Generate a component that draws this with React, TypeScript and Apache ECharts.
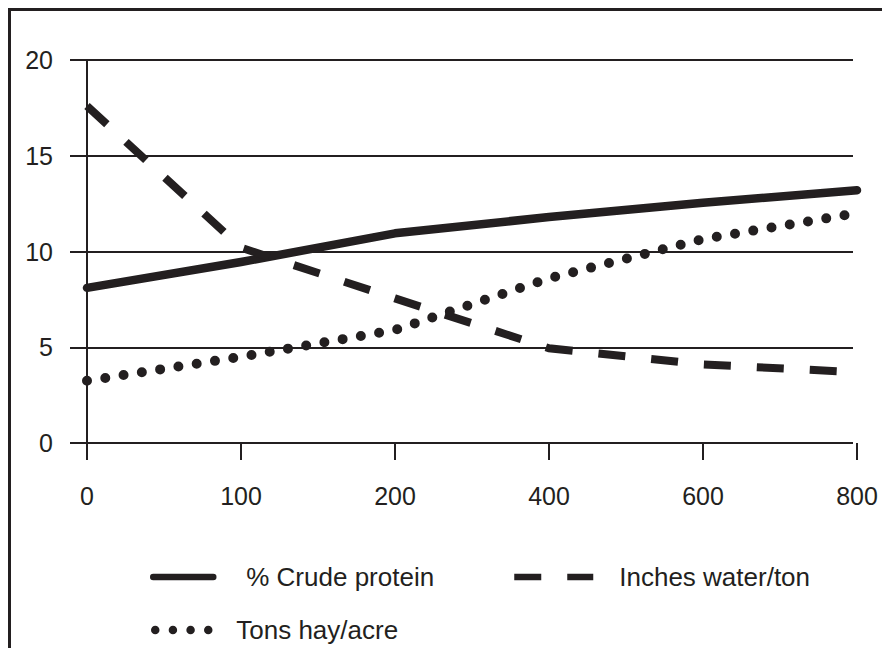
import React, { useEffect, useRef } from "react";
import * as echarts from "echarts";

// X-axis categories (nitrogen rate tick labels)
const categories = ["0", "100", "200", "400", "600", "800"];
// Series values read at each category
const crudeProtein = [8.1, 9.45, 10.95, 11.8, 12.55, 13.2];
const inchesWaterPerTon = [17.6, 10.2, 7.55, 4.95, 4.1, 3.7];
const tonsHayPerAcre = [3.25, 4.5, 5.9, 8.6, 10.65, 12.0];
// Y-axis range
const yMin = 0;
const yMax = 20;
const yStep = 5;

const seriesNames = ["% Crude protein", "Inches water/ton", "Tons hay/acre"];

const INK = "#231f20";
const FONT = "'Liberation Sans', Arial, Helvetica, sans-serif";

export default function App() {
  const ref = useRef<HTMLDivElement>(null);

  useEffect(() => {
    if (!ref.current) return;
    const chart = echarts.init(ref.current, null, { renderer: "svg" });

    const legendCommon = {
      orient: "horizontal",
      padding: 0,
      itemHeight: 26,
      selectedMode: false,
      itemStyle: { opacity: 0 },
    };

    chart.setOption({
      animation: false,
      color: [INK, INK, INK],
      grid: [
        { left: 59, top: 49, width: 783, height: 383 },
        { left: 76, top: 49, width: 770, height: 383 },
      ],
      xAxis: [
        { gridIndex: 0, type: "value", min: 0, max: 1, show: false },
        {
          gridIndex: 1,
          type: "category",
          data: categories,
          boundaryGap: false,
          axisLine: { show: false },
          axisTick: {
            show: true,
            interval: 0,
            length: 17,
            lineStyle: { color: INK, width: 2 },
          },
          axisLabel: {
            interval: 0,
            margin: 40,
            fontSize: 25,
            color: INK,
            fontFamily: FONT,
          },
          splitLine: { show: false },
        },
      ],
      yAxis: [
        {
          gridIndex: 0,
          type: "value",
          min: yMin,
          max: yMax,
          interval: yStep,
          axisLine: { show: false },
          axisTick: { show: false },
          axisLabel: {
            margin: 17,
            fontSize: 25,
            color: INK,
            fontFamily: FONT,
            padding: [0, 0, 14, 0],
          },
          splitLine: { show: true, lineStyle: { color: INK, width: 2 } },
        },
        {
          gridIndex: 1,
          type: "value",
          min: yMin,
          max: yMax,
          interval: yStep,
          axisLine: { show: true, lineStyle: { color: INK, width: 2 } },
          axisTick: { show: false },
          axisLabel: { show: false },
          splitLine: { show: false },
        },
      ],
      legend: [
        {
          ...legendCommon,
          data: [seriesNames[0]],
          left: 139,
          top: 553,
          itemWidth: 60,
          lineStyle: { width: 6.5 },
          textStyle: {
            fontSize: 26,
            lineHeight: 26,
            color: INK,
            fontFamily: FONT,
            padding: [0, 0, 0, 28],
          },
        },
        {
          ...legendCommon,
          data: [seriesNames[1]],
          left: 500,
          top: 553,
          itemWidth: 79,
          lineStyle: { width: 6.5 },
          textStyle: {
            fontSize: 26,
            lineHeight: 26,
            color: INK,
            fontFamily: FONT,
            padding: [0, 0, 0, 21],
          },
        },
        {
          ...legendCommon,
          data: [seriesNames[2]],
          left: 140,
          top: 601,
          itemWidth: 54,
          lineStyle: { width: 8.5, type: [0, 17.67] },
          textStyle: {
            fontSize: 26,
            lineHeight: 26,
            color: INK,
            fontFamily: FONT,
            padding: [0, 0, 10, 22],
          },
        },
      ],
      series: [
        {
          name: seriesNames[0],
          type: "line",
          xAxisIndex: 1,
          yAxisIndex: 1,
          data: crudeProtein,
          symbol: "none",
          itemStyle: { color: INK },
          lineStyle: { color: INK, width: 8.5, cap: "round", join: "round" },
        },
        {
          name: seriesNames[1],
          type: "line",
          xAxisIndex: 1,
          yAxisIndex: 1,
          data: inchesWaterPerTon,
          symbol: "none",
          itemStyle: { color: INK },
          lineStyle: { color: INK, width: 8, type: [27, 26], cap: "butt", join: "miter" },
        },
        {
          name: seriesNames[2],
          type: "line",
          xAxisIndex: 1,
          yAxisIndex: 1,
          data: tonsHayPerAcre,
          symbol: "none",
          itemStyle: { color: INK },
          lineStyle: { color: INK, width: 10, type: [0, 18.5], cap: "round", join: "round" },
        },
      ],
    });

    return () => {
      chart.dispose();
    };
  }, []);

  return (
    <div
      style={{
        boxSizing: "border-box",
        height: 640,
        marginRight: -8,
        borderTop: `3px solid ${INK}`,
        borderLeft: `3px solid ${INK}`,
        background: "#fff",
        overflow: "hidden",
      }}
    >
      <div ref={ref} style={{ width: 879, height: 637 }} />
    </div>
  );
}
